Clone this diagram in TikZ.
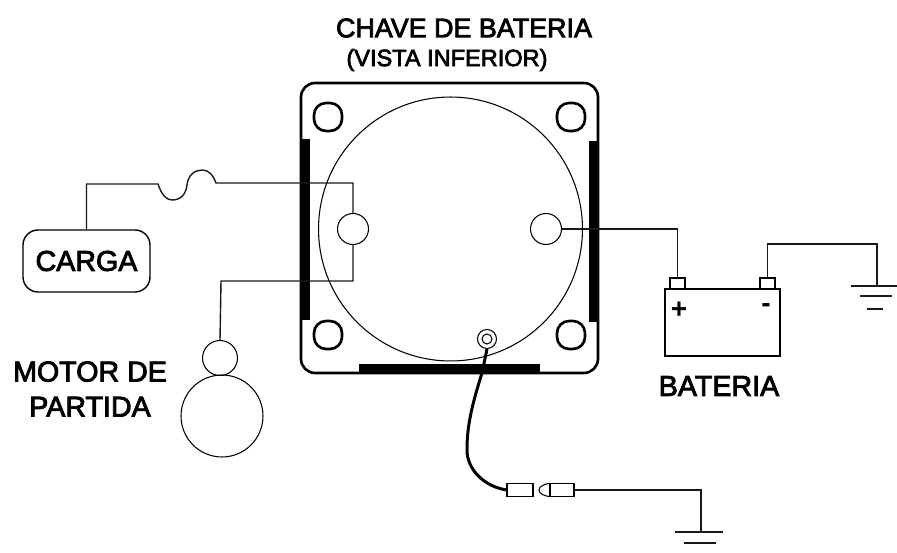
\documentclass[tikz,border=0pt]{standalone}
\usepackage{fontspec}
\setmainfont{Liberation Sans}
\newfontfamily\labelfont{Liberation Sans}[FakeBold=3]
\usetikzlibrary{arrows.meta,calc}

\tikzset{
  wire/.style={line width=0.8pt, black!90},
  hole/.style={draw, line width=1.5pt, rounded corners=0.24cm, minimum size=0.56cm, inner sep=0pt},
  stud/.style={draw, line width=0.6pt, circle, inner sep=0pt},
  bar/.style={draw=none, fill=black, inner sep=0pt, outer sep=0pt},
  post/.style={draw, line width=0.8pt, inner sep=0pt, outer sep=0pt},
  label/.style={font=\labelfont\fontsize{16.3}{18}\selectfont, align=center, inner sep=0pt},
}

\begin{document}
\begin{tikzpicture}[x=0.02cm, y=-0.02cm]
        \useasboundingbox (0,0) rectangle (897,553);

        % switch body
        \node[draw, line width=1.5pt, rounded corners=0.28cm, minimum width=5.94cm, minimum height=5.8cm, inner sep=0pt] (body) at (449.5,228) {};
        \node[stud, minimum size=5.28cm] (dial) at (450.5,229) {};
        \node[bar, minimum width=0.19cm, minimum height=3.62cm] (barL) at (305.5,229.5) {};
        \node[bar, minimum width=0.19cm, minimum height=3.62cm] (barR) at (593.5,231.5) {};
        \node[bar, minimum width=3.62cm, minimum height=0.19cm] (barB) at (449.5,368.5) {};
        \node[hole] (holeA) at (328,117) {};
        \node[hole] (holeB) at (571,117) {};
        \node[hole] (holeC) at (328,335) {};
        \node[hole] (holeD) at (571,335) {};
        \node[stud, minimum size=0.62cm] (termL) at (353,229) {};
        \node[stud, minimum size=0.62cm] (termR) at (546,229) {};
        \node[stud, minimum size=0.38cm] (studO) at (487,339) {};
        \node[stud, minimum size=0.2cm] (studI) at (487,339) {};

        % load, fuse and starter motor
        \node[draw, line width=0.8pt, rounded corners=0.3cm, minimum width=2.54cm, minimum height=1.24cm, inner sep=0pt, label] (carga) at (86.5,261) {CARGA};
        \node[stud, minimum size=0.7cm] (motorS) at (220,358) {};
        \node[stud, minimum size=1.64cm] (motorB) at (222,416) {};
        \node[label] (motor) at (90,389) {MOTOR DE\\[2pt]PARTIDA};
        \coordinate (fuseA) at (158,184);
        \coordinate (fuseB) at (216,183);
        \draw[wire] (carga.north) |- (fuseA)
            .. controls (162,196) and (167,200) .. (172,200)
            .. controls (181,200) and (186,194) .. (187,185)
            .. controls (188,175) and (195,170) .. (202,170)
            .. controls (209,170) and (213,175) .. (fuseB)
            -| (termL.north);
        \draw[wire] (termL.south) |- (221,281) -- (motorS.north);

        % battery
        \node[draw, line width=1pt, minimum width=2.3cm, minimum height=1.34cm, inner sep=0pt] (batt) at (722.5,322.5) {};
        \node[post, minimum width=0.3cm, minimum height=0.22cm] (postP) at (677.5,283.5) {};
        \node[post, minimum width=0.3cm, minimum height=0.22cm] (postN) at (767.5,283.5) {};
        \node[font=\bfseries\fontsize{16}{16}\selectfont, inner sep=0pt] (plus) at (679,310) {+};
        \node[font=\bfseries\fontsize{16}{16}\selectfont, inner sep=0pt] (minus) at (766,308) {-};
        \node[label] (bateria) at (719,386) {BATERIA};
        \draw[wire] (termR.east) -| (postP.north);

        % battery ground
        \coordinate (gndA) at (877,286);
        \draw[wire] (postN.north) |- (877,244) -- (gndA);
        \draw[wire] (851,286) -- (897,286);
        \draw[wire] (860,296) -- (892,296);
        \draw[wire] (867,309) -- (883,309);

        % ground lead with plug
        \node[post, minimum width=0.52cm, minimum height=0.27cm] (plugA) at (520,490) {};
        \node[post, minimum width=0.48cm, minimum height=0.27cm] (plugB) at (562,490) {};
        \draw[line width=0.6pt] (plugB.north west) .. controls (545,484) and (539,486) .. (539,490)
            .. controls (539,494) and (545,496) .. (plugB.south west);
        \draw[line width=1.7pt] (studO.south) -- (482,373)
            .. controls (472,405) and (467,425) .. (467,450)
            .. controls (467,470) and (485,487) .. (plugA.west);
        \coordinate (gndB) at (701,532);
        \draw[wire] (plugB.east) -| (gndB);
        \draw[wire] (675,532) -- (723,532);
        \draw[wire] (684,543) -- (716,543);

        % titles
        \node[label, font=\labelfont\fontsize{15.3}{18}\selectfont] (title) at (464,28) {CHAVE DE BATERIA};
        \node[label, font=\labelfont\fontsize{13.4}{15}\selectfont] (subtitle) at (447,60) {(VISTA INFERIOR)};
    \end{tikzpicture}
\end{document}
